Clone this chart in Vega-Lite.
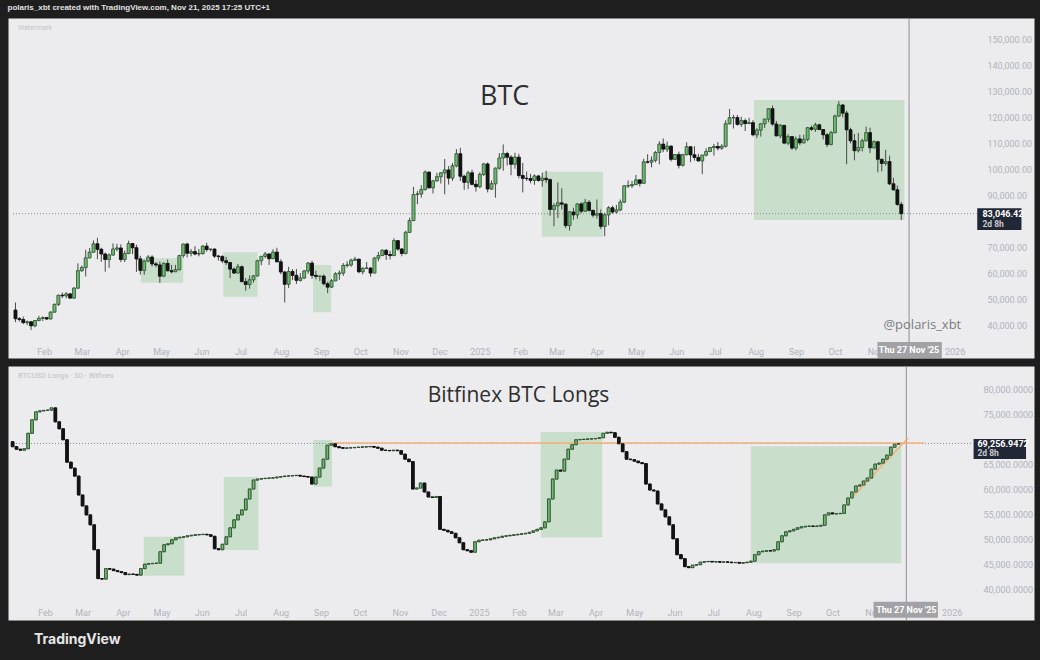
{
"$schema":"https://vega.github.io/schema/vega-lite/v6.json",
"background":"#1e1e1e",
"padding":{"left":7,"right":7,"top":4,"bottom":20},
"title":{"text":"polaris_xbt created with TradingView.com, Nov 21, 2025 17:25 UTC+1","anchor":"start","color":"#e2e2e2","fontSize":8,"fontWeight":"bold","font":"Liberation Sans","offset":5},
"spacing":6,
"resolve":{"scale":{"x":"independent","y":"independent"}},
"config":{"view":{"fill":"#ececee","stroke":"transparent"},"axis":{"grid":false,"ticks":false,"tickSize":0,"domain":false,"labelPadding":0,"labelColor":"#b0b3bb","labelFontSize":9,"labelFont":"Roboto","labelFlush":false,"labelOverlap":false}},
"datasets":{
"btc":[
{"d":"2024-01-10","o":46100,"h":49000,"l":41500,"c":42800},
{"d":"2024-01-13","o":42800,"h":43400,"l":41700,"c":42500},
{"d":"2024-01-16","o":42500,"h":43600,"l":40700,"c":41300},
{"d":"2024-01-19","o":41300,"h":42100,"l":40300,"c":41600},
{"d":"2024-01-22","o":41600,"h":41700,"l":38500,"c":40100},
{"d":"2024-01-25","o":40100,"h":42200,"l":39500,"c":42100},
{"d":"2024-01-28","o":42100,"h":43900,"l":41800,"c":42900},
{"d":"2024-01-31","o":42900,"h":43700,"l":41900,"c":43200},
{"d":"2024-02-03","o":43200,"h":43500,"l":42300,"c":42700},
{"d":"2024-02-06","o":42700,"h":45600,"l":42600,"c":45300},
{"d":"2024-02-09","o":45300,"h":48600,"l":45300,"c":48300},
{"d":"2024-02-12","o":48300,"h":52000,"l":47700,"c":51800},
{"d":"2024-02-15","o":51800,"h":52800,"l":50700,"c":51600},
{"d":"2024-02-18","o":51600,"h":53000,"l":50600,"c":52300},
{"d":"2024-02-21","o":52300,"h":52400,"l":50600,"c":50700},
{"d":"2024-02-24","o":50700,"h":54900,"l":50500,"c":54500},
{"d":"2024-02-27","o":54500,"h":64000,"l":54400,"c":61200},
{"d":"2024-03-01","o":61200,"h":63200,"l":60800,"c":62400},
{"d":"2024-03-04","o":62400,"h":69200,"l":59000,"c":66100},
{"d":"2024-03-07","o":66100,"h":69900,"l":66000,"c":68300},
{"d":"2024-03-10","o":68300,"h":72800,"l":68200,"c":71500},
{"d":"2024-03-13","o":71500,"h":73800,"l":65600,"c":69400},
{"d":"2024-03-16","o":69400,"h":70000,"l":64600,"c":67600},
{"d":"2024-03-19","o":67600,"h":68100,"l":60800,"c":65500},
{"d":"2024-03-22","o":65500,"h":67800,"l":62300,"c":67200},
{"d":"2024-03-25","o":67200,"h":71700,"l":67000,"c":69500},
{"d":"2024-03-28","o":69500,"h":71500,"l":68600,"c":69900},
{"d":"2024-03-31","o":69900,"h":71300,"l":64500,"c":65500},
{"d":"2024-04-03","o":65500,"h":68900,"l":64500,"c":67800},
{"d":"2024-04-06","o":67800,"h":72700,"l":67500,"c":71600},
{"d":"2024-04-09","o":71600,"h":71700,"l":67500,"c":70000},
{"d":"2024-04-12","o":70000,"h":71200,"l":60700,"c":65700},
{"d":"2024-04-15","o":65700,"h":66900,"l":59700,"c":61300},
{"d":"2024-04-18","o":61300,"h":65400,"l":59600,"c":64900},
{"d":"2024-04-21","o":64900,"h":67200,"l":64400,"c":66400},
{"d":"2024-04-24","o":66400,"h":67100,"l":62800,"c":63800},
{"d":"2024-04-27","o":63800,"h":64500,"l":62500,"c":63400},
{"d":"2024-04-30","o":63400,"h":64700,"l":56500,"c":59100},
{"d":"2024-05-03","o":59100,"h":64400,"l":58800,"c":64000},
{"d":"2024-05-06","o":64000,"h":65500,"l":60900,"c":61200},
{"d":"2024-05-09","o":61200,"h":63400,"l":60200,"c":60800},
{"d":"2024-05-12","o":60800,"h":63400,"l":60700,"c":61600},
{"d":"2024-05-15","o":61600,"h":67300,"l":61300,"c":67000},
{"d":"2024-05-18","o":67000,"h":71500,"l":66100,"c":71400},
{"d":"2024-05-21","o":71400,"h":71900,"l":66300,"c":67900},
{"d":"2024-05-24","o":67900,"h":69500,"l":66700,"c":68500},
{"d":"2024-05-27","o":68500,"h":70600,"l":67100,"c":67600},
{"d":"2024-05-30","o":67600,"h":69500,"l":66700,"c":67800},
{"d":"2024-06-02","o":67800,"h":71000,"l":67300,"c":70600},
{"d":"2024-06-05","o":70600,"h":71900,"l":68500,"c":69300},
{"d":"2024-06-08","o":69300,"h":69600,"l":68600,"c":69500},
{"d":"2024-06-11","o":69500,"h":69600,"l":66100,"c":66800},
{"d":"2024-06-14","o":66800,"h":67300,"l":65100,"c":66600},
{"d":"2024-06-17","o":66600,"h":67200,"l":64100,"c":65000},
{"d":"2024-06-20","o":65000,"h":66500,"l":63400,"c":64300},
{"d":"2024-06-23","o":64300,"h":64500,"l":58400,"c":61800},
{"d":"2024-06-26","o":61800,"h":62400,"l":60000,"c":60300},
{"d":"2024-06-29","o":60300,"h":63800,"l":60300,"c":62700},
{"d":"2024-07-02","o":62700,"h":63200,"l":56800,"c":57000},
{"d":"2024-07-05","o":57000,"h":58400,"l":53500,"c":55900},
{"d":"2024-07-08","o":55900,"h":59400,"l":54300,"c":57700},
{"d":"2024-07-11","o":57700,"h":59500,"l":56600,"c":59200},
{"d":"2024-07-14","o":59200,"h":65400,"l":59000,"c":65000},
{"d":"2024-07-17","o":65000,"h":66800,"l":63300,"c":66700},
{"d":"2024-07-20","o":66700,"h":68400,"l":66000,"c":67600},
{"d":"2024-07-23","o":67600,"h":67800,"l":63400,"c":65800},
{"d":"2024-07-26","o":65800,"h":69400,"l":65800,"c":68300},
{"d":"2024-07-29","o":68300,"h":70000,"l":64500,"c":64600},
{"d":"2024-08-01","o":64600,"h":65600,"l":59800,"c":60700},
{"d":"2024-08-04","o":60700,"h":61000,"l":49000,"c":56000},
{"d":"2024-08-07","o":56000,"h":62700,"l":54600,"c":60900},
{"d":"2024-08-10","o":60900,"h":61800,"l":57600,"c":59400},
{"d":"2024-08-13","o":59400,"h":61800,"l":56100,"c":57500},
{"d":"2024-08-16","o":57500,"h":60300,"l":57000,"c":58400},
{"d":"2024-08-19","o":58400,"h":61400,"l":58000,"c":61100},
{"d":"2024-08-22","o":61100,"h":64500,"l":60000,"c":64100},
{"d":"2024-08-25","o":64100,"h":65000,"l":58100,"c":59400},
{"d":"2024-08-28","o":59400,"h":61200,"l":57900,"c":59000},
{"d":"2024-08-31","o":59000,"h":59400,"l":57200,"c":59100},
{"d":"2024-09-03","o":59100,"h":59800,"l":55600,"c":56200},
{"d":"2024-09-06","o":56200,"h":57000,"l":52600,"c":54900},
{"d":"2024-09-09","o":54900,"h":58000,"l":54600,"c":57300},
{"d":"2024-09-12","o":57300,"h":60600,"l":57300,"c":60000},
{"d":"2024-09-15","o":60000,"h":61300,"l":57700,"c":60300},
{"d":"2024-09-18","o":60300,"h":64100,"l":59200,"c":63200},
{"d":"2024-09-21","o":63200,"h":64800,"l":62400,"c":63400},
{"d":"2024-09-24","o":63400,"h":65800,"l":62700,"c":65200},
{"d":"2024-09-27","o":65200,"h":66500,"l":65000,"c":65600},
{"d":"2024-09-30","o":65600,"h":65700,"l":60200,"c":60800},
{"d":"2024-10-03","o":60800,"h":62500,"l":59800,"c":62100},
{"d":"2024-10-06","o":62100,"h":64500,"l":61900,"c":62200},
{"d":"2024-10-09","o":62200,"h":62600,"l":58900,"c":60300},
{"d":"2024-10-12","o":60300,"h":66500,"l":60300,"c":66000},
{"d":"2024-10-15","o":66000,"h":68400,"l":64800,"c":67000},
{"d":"2024-10-18","o":67000,"h":69400,"l":67000,"c":69000},
{"d":"2024-10-21","o":69000,"h":69500,"l":65300,"c":67400},
{"d":"2024-10-24","o":67400,"h":68800,"l":65500,"c":67000},
{"d":"2024-10-27","o":67000,"h":73600,"l":66800,"c":72700},
{"d":"2024-10-30","o":72700,"h":72900,"l":68800,"c":69500},
{"d":"2024-11-02","o":69500,"h":69900,"l":66700,"c":67800},
{"d":"2024-11-05","o":67800,"h":76500,"l":67400,"c":75900},
{"d":"2024-11-08","o":75900,"h":81500,"l":75700,"c":80400},
{"d":"2024-11-11","o":80400,"h":93300,"l":80200,"c":90400},
{"d":"2024-11-14","o":90400,"h":91800,"l":86700,"c":90600},
{"d":"2024-11-17","o":90600,"h":94000,"l":89200,"c":92300},
{"d":"2024-11-20","o":92300,"h":99600,"l":91900,"c":99000},
{"d":"2024-11-23","o":99000,"h":99000,"l":92600,"c":93000},
{"d":"2024-11-26","o":93000,"h":96000,"l":90800,"c":95600},
{"d":"2024-11-29","o":95600,"h":98700,"l":95400,"c":97200},
{"d":"2024-12-02","o":97200,"h":99000,"l":94600,"c":98700},
{"d":"2024-12-05","o":98700,"h":104000,"l":90500,"c":99800},
{"d":"2024-12-08","o":99800,"h":101300,"l":94200,"c":96700},
{"d":"2024-12-11","o":96700,"h":102500,"l":95600,"c":101400},
{"d":"2024-12-14","o":101400,"h":107800,"l":100800,"c":106000},
{"d":"2024-12-17","o":106000,"h":108300,"l":95600,"c":97400},
{"d":"2024-12-20","o":97400,"h":98000,"l":92200,"c":95100},
{"d":"2024-12-23","o":95100,"h":99500,"l":92500,"c":98700},
{"d":"2024-12-26","o":98700,"h":99900,"l":93900,"c":94300},
{"d":"2024-12-29","o":94300,"h":96000,"l":91500,"c":93400},
{"d":"2025-01-01","o":93400,"h":98900,"l":92800,"c":98100},
{"d":"2025-01-04","o":98100,"h":102500,"l":97500,"c":102100},
{"d":"2025-01-07","o":102100,"h":102700,"l":91200,"c":92500},
{"d":"2025-01-10","o":92500,"h":95800,"l":92200,"c":94500},
{"d":"2025-01-13","o":94500,"h":100700,"l":89200,"c":100500},
{"d":"2025-01-16","o":100500,"h":106300,"l":99900,"c":104400},
{"d":"2025-01-19","o":104400,"h":109600,"l":99500,"c":106100},
{"d":"2025-01-22","o":106100,"h":106800,"l":101500,"c":104700},
{"d":"2025-01-25","o":104700,"h":105500,"l":97800,"c":102000},
{"d":"2025-01-28","o":102000,"h":106400,"l":100300,"c":104700},
{"d":"2025-01-31","o":104700,"h":106000,"l":96600,"c":97700},
{"d":"2025-02-03","o":97700,"h":102500,"l":91200,"c":96600},
{"d":"2025-02-06","o":96600,"h":99200,"l":95600,"c":96500},
{"d":"2025-02-09","o":96500,"h":98300,"l":94700,"c":95800},
{"d":"2025-02-12","o":95800,"h":98100,"l":94100,"c":97500},
{"d":"2025-02-15","o":97500,"h":97900,"l":95300,"c":95800},
{"d":"2025-02-18","o":95800,"h":98700,"l":93400,"c":96600},
{"d":"2025-02-21","o":96600,"h":99500,"l":94800,"c":96100},
{"d":"2025-02-24","o":96100,"h":96500,"l":82300,"c":84700},
{"d":"2025-02-27","o":84700,"h":87000,"l":78200,"c":86100},
{"d":"2025-03-02","o":86100,"h":95000,"l":81400,"c":87200},
{"d":"2025-03-05","o":87200,"h":92800,"l":84700,"c":86700},
{"d":"2025-03-08","o":86700,"h":86900,"l":77500,"c":78500},
{"d":"2025-03-11","o":78500,"h":84100,"l":76600,"c":83700},
{"d":"2025-03-14","o":83700,"h":85300,"l":80700,"c":82600},
{"d":"2025-03-17","o":82600,"h":86900,"l":81100,"c":86800},
{"d":"2025-03-20","o":86800,"h":87400,"l":83200,"c":84000},
{"d":"2025-03-23","o":84000,"h":88700,"l":83800,"c":87400},
{"d":"2025-03-26","o":87400,"h":88300,"l":83900,"c":84300},
{"d":"2025-03-29","o":84300,"h":84600,"l":81600,"c":82500},
{"d":"2025-04-01","o":82500,"h":88500,"l":81200,"c":83100},
{"d":"2025-04-04","o":83100,"h":84700,"l":77200,"c":78200},
{"d":"2025-04-07","o":78200,"h":83500,"l":74400,"c":82600},
{"d":"2025-04-10","o":82600,"h":85900,"l":78600,"c":85300},
{"d":"2025-04-13","o":85300,"h":86100,"l":83000,"c":83700},
{"d":"2025-04-16","o":83700,"h":86400,"l":83100,"c":84500},
{"d":"2025-04-19","o":84500,"h":88500,"l":84000,"c":87500},
{"d":"2025-04-22","o":87500,"h":94000,"l":87100,"c":93700},
{"d":"2025-04-25","o":93700,"h":95800,"l":92900,"c":93800},
{"d":"2025-04-28","o":93800,"h":95600,"l":92900,"c":94200},
{"d":"2025-05-01","o":94200,"h":97900,"l":94100,"c":96000},
{"d":"2025-05-04","o":96000,"h":96300,"l":93400,"c":94700},
{"d":"2025-05-07","o":94700,"h":104100,"l":94700,"c":102900},
{"d":"2025-05-10","o":102900,"h":105800,"l":102300,"c":102800},
{"d":"2025-05-13","o":102800,"h":105000,"l":100800,"c":103500},
{"d":"2025-05-16","o":103500,"h":107100,"l":102700,"c":106500},
{"d":"2025-05-19","o":106500,"h":110800,"l":102000,"c":109700},
{"d":"2025-05-22","o":109700,"h":111900,"l":106600,"c":107800},
{"d":"2025-05-25","o":107800,"h":110700,"l":106700,"c":108900},
{"d":"2025-05-28","o":108900,"h":109300,"l":103100,"c":103900},
{"d":"2025-05-31","o":103900,"h":105900,"l":103600,"c":105700},
{"d":"2025-06-03","o":105700,"h":106800,"l":100400,"c":101600},
{"d":"2025-06-06","o":101600,"h":106000,"l":101100,"c":105700},
{"d":"2025-06-09","o":105700,"h":110400,"l":105300,"c":108700},
{"d":"2025-06-12","o":108700,"h":108800,"l":102800,"c":105600},
{"d":"2025-06-15","o":105600,"h":108900,"l":103400,"c":104600},
{"d":"2025-06-18","o":104600,"h":106000,"l":103000,"c":103300},
{"d":"2025-06-21","o":103300,"h":105600,"l":98200,"c":105500},
{"d":"2025-06-24","o":105500,"h":108100,"l":105000,"c":106900},
{"d":"2025-06-27","o":106900,"h":108500,"l":106600,"c":108400},
{"d":"2025-06-30","o":108400,"h":109800,"l":105300,"c":108800},
{"d":"2025-07-03","o":108800,"h":110500,"l":107300,"c":108200},
{"d":"2025-07-06","o":108200,"h":109700,"l":107500,"c":108900},
{"d":"2025-07-09","o":108900,"h":118900,"l":108400,"c":117500},
{"d":"2025-07-12","o":117500,"h":123200,"l":117300,"c":119800},
{"d":"2025-07-15","o":119800,"h":120900,"l":115700,"c":119900},
{"d":"2025-07-18","o":119900,"h":120900,"l":116800,"c":117300},
{"d":"2025-07-21","o":117300,"h":120200,"l":116300,"c":118700},
{"d":"2025-07-24","o":118700,"h":119500,"l":114700,"c":117600},
{"d":"2025-07-27","o":117600,"h":119800,"l":117400,"c":117900},
{"d":"2025-07-30","o":117900,"h":118900,"l":112700,"c":113300},
{"d":"2025-08-02","o":113300,"h":115800,"l":112000,"c":115100},
{"d":"2025-08-05","o":115100,"h":117700,"l":112600,"c":117500},
{"d":"2025-08-08","o":117500,"h":119400,"l":115900,"c":119300},
{"d":"2025-08-11","o":119300,"h":123500,"l":118100,"c":123300},
{"d":"2025-08-14","o":123300,"h":124500,"l":116800,"c":117400},
{"d":"2025-08-17","o":117400,"h":118600,"l":112700,"c":112900},
{"d":"2025-08-20","o":112900,"h":117400,"l":112000,"c":116900},
{"d":"2025-08-23","o":116900,"h":117000,"l":109700,"c":110100},
{"d":"2025-08-26","o":110100,"h":113500,"l":109300,"c":112600},
{"d":"2025-08-29","o":112600,"h":112700,"l":107500,"c":108200},
{"d":"2025-09-01","o":108200,"h":112600,"l":107300,"c":111700},
{"d":"2025-09-04","o":111700,"h":113300,"l":109300,"c":110200},
{"d":"2025-09-07","o":110200,"h":113300,"l":110000,"c":111500},
{"d":"2025-09-10","o":111500,"h":116300,"l":110800,"c":116000},
{"d":"2025-09-13","o":116000,"h":116800,"l":114800,"c":115400},
{"d":"2025-09-16","o":115400,"h":117900,"l":114400,"c":117100},
{"d":"2025-09-19","o":117100,"h":117500,"l":115100,"c":115300},
{"d":"2025-09-22","o":115300,"h":115400,"l":111500,"c":113300},
{"d":"2025-09-25","o":113300,"h":113900,"l":108600,"c":109600},
{"d":"2025-09-28","o":109600,"h":114800,"l":109200,"c":114100},
{"d":"2025-10-01","o":114100,"h":121000,"l":113900,"c":120500},
{"d":"2025-10-04","o":120500,"h":126200,"l":120100,"c":124700},
{"d":"2025-10-07","o":124700,"h":125100,"l":119900,"c":121600},
{"d":"2025-10-10","o":121600,"h":122500,"l":102000,"c":115200},
{"d":"2025-10-13","o":115200,"h":116000,"l":110000,"c":111000},
{"d":"2025-10-16","o":111000,"h":113600,"l":103500,"c":107200},
{"d":"2025-10-19","o":107200,"h":114000,"l":106500,"c":108400},
{"d":"2025-10-22","o":108400,"h":111800,"l":106900,"c":111000},
{"d":"2025-10-25","o":111000,"h":116400,"l":110800,"c":114100},
{"d":"2025-10-28","o":114100,"h":116000,"l":106300,"c":108300},
{"d":"2025-10-31","o":108300,"h":111200,"l":108000,"c":110600},
{"d":"2025-11-03","o":110600,"h":110800,"l":98900,"c":103900},
{"d":"2025-11-06","o":103900,"h":104000,"l":99300,"c":102300},
{"d":"2025-11-09","o":102300,"h":107500,"l":101500,"c":103000},
{"d":"2025-11-12","o":103000,"h":105300,"l":94000,"c":94500},
{"d":"2025-11-15","o":94500,"h":96800,"l":91900,"c":92200},
{"d":"2025-11-18","o":92200,"h":93800,"l":86100,"c":86600},
{"d":"2025-11-21","o":86600,"h":87500,"l":80600,"c":83046.42}
],
"longs":[
{"d":"2024-01-07","o":69600,"c":68600},{"d":"2024-01-10","o":68600,"c":68100},{"d":"2024-01-13","o":68100,"c":67900},{"d":"2024-01-16","o":67900,"c":68200},
{"d":"2024-01-19","o":68200,"c":71300},{"d":"2024-01-22","o":71300,"c":74000},{"d":"2024-01-25","o":74000,"c":75600},{"d":"2024-01-28","o":75600,"c":75800},
{"d":"2024-01-31","o":75800,"c":75900},{"d":"2024-02-03","o":75900,"c":75950},{"d":"2024-02-06","o":75950,"c":76400},{"d":"2024-02-09","o":76400,"c":73600},
{"d":"2024-02-12","o":73600,"c":72200},{"d":"2024-02-15","o":72200,"c":70000},{"d":"2024-02-18","o":70000,"c":65500},{"d":"2024-02-21","o":65500,"c":64300},
{"d":"2024-02-24","o":64300,"c":62700},{"d":"2024-02-27","o":62700,"c":58900},{"d":"2024-03-01","o":58900,"c":56700},{"d":"2024-03-04","o":56700,"c":54900},
{"d":"2024-03-07","o":54900,"c":52900},{"d":"2024-03-10","o":52900,"c":47900},{"d":"2024-03-13","o":47900,"c":42100},{"d":"2024-03-16","o":42100,"c":42000},
{"d":"2024-03-19","o":42000,"c":44100},{"d":"2024-03-22","o":44100,"c":44000},{"d":"2024-03-25","o":44000,"c":43700},{"d":"2024-03-28","o":43700,"c":43500},
{"d":"2024-03-31","o":43500,"c":43300},{"d":"2024-04-03","o":43300,"c":42900},{"d":"2024-04-06","o":42900,"c":43000},{"d":"2024-04-09","o":43000,"c":42950},
{"d":"2024-04-12","o":42950,"c":42800},{"d":"2024-04-15","o":42800,"c":44100},{"d":"2024-04-18","o":44100,"c":45000},{"d":"2024-04-21","o":45000,"c":45100},
{"d":"2024-04-24","o":45100,"c":45150},{"d":"2024-04-27","o":45150,"c":45200},{"d":"2024-04-30","o":45200,"c":47500},{"d":"2024-05-03","o":47500,"c":48900},
{"d":"2024-05-06","o":48900,"c":49100},{"d":"2024-05-09","o":49100,"c":49900},{"d":"2024-05-12","o":49900,"c":50300},{"d":"2024-05-15","o":50300,"c":50400},
{"d":"2024-05-18","o":50400,"c":50500},{"d":"2024-05-21","o":50500,"c":50700},{"d":"2024-05-24","o":50700,"c":50800},{"d":"2024-05-27","o":50800,"c":50900},
{"d":"2024-05-30","o":50900,"c":50950},{"d":"2024-06-02","o":50950,"c":51000},{"d":"2024-06-05","o":51000,"c":50900},{"d":"2024-06-08","o":50900,"c":50600},
{"d":"2024-06-11","o":50600,"c":48100},{"d":"2024-06-14","o":48100,"c":47900},{"d":"2024-06-17","o":47900,"c":49000},{"d":"2024-06-20","o":49000,"c":50500},
{"d":"2024-06-23","o":50500,"c":52300},{"d":"2024-06-26","o":52300,"c":53900},{"d":"2024-06-29","o":53900,"c":54900},{"d":"2024-07-02","o":54900,"c":55900},
{"d":"2024-07-05","o":55900,"c":58100},{"d":"2024-07-08","o":58100,"c":60100},{"d":"2024-07-11","o":60100,"c":61900},{"d":"2024-07-14","o":61900,"c":62100},
{"d":"2024-07-17","o":62100,"c":62200},{"d":"2024-07-20","o":62200,"c":62250},{"d":"2024-07-23","o":62250,"c":62300},{"d":"2024-07-26","o":62300,"c":62350},
{"d":"2024-07-29","o":62350,"c":62500},{"d":"2024-08-01","o":62500,"c":62600},{"d":"2024-08-04","o":62600,"c":62700},{"d":"2024-08-07","o":62700,"c":62750},
{"d":"2024-08-10","o":62750,"c":62800},{"d":"2024-08-13","o":62800,"c":62850},{"d":"2024-08-16","o":62850,"c":62700},{"d":"2024-08-19","o":62700,"c":62600},
{"d":"2024-08-22","o":62600,"c":62500},{"d":"2024-08-25","o":62500,"c":61100},{"d":"2024-08-28","o":61100,"c":62500},{"d":"2024-08-31","o":62500,"c":64300},
{"d":"2024-09-03","o":64300,"c":66100},{"d":"2024-09-06","o":66100,"c":68900},{"d":"2024-09-09","o":68900,"c":69200},{"d":"2024-09-12","o":69200,"c":68600},
{"d":"2024-09-15","o":68600,"c":68400},{"d":"2024-09-18","o":68400,"c":68300},{"d":"2024-09-21","o":68300,"c":68350},{"d":"2024-09-24","o":68350,"c":68400},
{"d":"2024-09-27","o":68400,"c":68450},{"d":"2024-09-30","o":68450,"c":68500},{"d":"2024-10-03","o":68500,"c":68550},{"d":"2024-10-06","o":68550,"c":68600},
{"d":"2024-10-09","o":68600,"c":68650},{"d":"2024-10-12","o":68650,"c":68500},{"d":"2024-10-15","o":68500,"c":68300},{"d":"2024-10-18","o":68300,"c":67900},
{"d":"2024-10-21","o":67900,"c":67850},{"d":"2024-10-24","o":67850,"c":67800},{"d":"2024-10-27","o":67800,"c":67900},{"d":"2024-10-30","o":67900,"c":67800},
{"d":"2024-11-02","o":67800,"c":67100},{"d":"2024-11-05","o":67100,"c":66100},{"d":"2024-11-08","o":66100,"c":65600},{"d":"2024-11-11","o":65600,"c":60100},
{"d":"2024-11-14","o":60100,"c":60300},{"d":"2024-11-17","o":60300,"c":61300},{"d":"2024-11-20","o":61300,"c":59500},{"d":"2024-11-23","o":59500,"c":58500},
{"d":"2024-11-26","o":58500,"c":58400},{"d":"2024-11-29","o":58400,"c":58600},{"d":"2024-12-02","o":58600,"c":52000},{"d":"2024-12-05","o":52000,"c":51800},
{"d":"2024-12-08","o":51800,"c":51500},{"d":"2024-12-11","o":51500,"c":51200},{"d":"2024-12-14","o":51200,"c":50300},{"d":"2024-12-17","o":50300,"c":49300},
{"d":"2024-12-20","o":49300,"c":47900},{"d":"2024-12-23","o":47900,"c":47700},{"d":"2024-12-26","o":47700,"c":47400},{"d":"2024-12-29","o":47400,"c":49500},
{"d":"2025-01-01","o":49500,"c":49800},{"d":"2025-01-04","o":49800,"c":49850},{"d":"2025-01-07","o":49850,"c":49900},{"d":"2025-01-10","o":49900,"c":50100},
{"d":"2025-01-13","o":50100,"c":50300},{"d":"2025-01-16","o":50300,"c":50400},{"d":"2025-01-19","o":50400,"c":50600},{"d":"2025-01-22","o":50600,"c":50700},
{"d":"2025-01-25","o":50700,"c":50800},{"d":"2025-01-28","o":50800,"c":50900},{"d":"2025-01-31","o":50900,"c":51000},{"d":"2025-02-03","o":51000,"c":51100},
{"d":"2025-02-06","o":51100,"c":51200},{"d":"2025-02-09","o":51200,"c":51400},{"d":"2025-02-12","o":51400,"c":51700},{"d":"2025-02-15","o":51700,"c":52000},
{"d":"2025-02-18","o":52000,"c":52300},{"d":"2025-02-21","o":52300,"c":53500},{"d":"2025-02-24","o":53500,"c":58100},{"d":"2025-02-27","o":58100,"c":62100},
{"d":"2025-03-02","o":62100,"c":63900},{"d":"2025-03-05","o":63900,"c":63700},{"d":"2025-03-08","o":63700,"c":66100},{"d":"2025-03-11","o":66100,"c":68100},
{"d":"2025-03-14","o":68100,"c":69000},{"d":"2025-03-17","o":69000,"c":70000},{"d":"2025-03-20","o":70000,"c":70050},{"d":"2025-03-23","o":70050,"c":70100},
{"d":"2025-03-26","o":70100,"c":70150},{"d":"2025-03-29","o":70150,"c":70200},{"d":"2025-04-01","o":70200,"c":70250},{"d":"2025-04-04","o":70250,"c":70400},
{"d":"2025-04-07","o":70400,"c":71300},{"d":"2025-04-10","o":71300,"c":71500},{"d":"2025-04-13","o":71500,"c":71400},{"d":"2025-04-16","o":71400,"c":70500},
{"d":"2025-04-19","o":70500,"c":69200},{"d":"2025-04-22","o":69200,"c":67600},{"d":"2025-04-25","o":67600,"c":66100},{"d":"2025-04-28","o":66100,"c":66000},
{"d":"2025-05-01","o":66000,"c":65700},{"d":"2025-05-04","o":65700,"c":65400},{"d":"2025-05-07","o":65400,"c":65200},{"d":"2025-05-10","o":65200,"c":61100},
{"d":"2025-05-13","o":61100,"c":59900},{"d":"2025-05-16","o":59900,"c":59700},{"d":"2025-05-19","o":59700,"c":57100},{"d":"2025-05-22","o":57100,"c":55900},
{"d":"2025-05-25","o":55900,"c":54500},{"d":"2025-05-28","o":54500,"c":52900},{"d":"2025-05-31","o":52900,"c":50100},{"d":"2025-06-03","o":50100,"c":46900},
{"d":"2025-06-06","o":46900,"c":46100},{"d":"2025-06-09","o":46100,"c":44500},{"d":"2025-06-12","o":44500,"c":44300},{"d":"2025-06-15","o":44300,"c":44800},
{"d":"2025-06-18","o":44800,"c":44900},{"d":"2025-06-21","o":44900,"c":45400},{"d":"2025-06-24","o":45400,"c":45500},{"d":"2025-06-27","o":45500,"c":45550},
{"d":"2025-06-30","o":45550,"c":45450},{"d":"2025-07-03","o":45450,"c":45500},{"d":"2025-07-06","o":45500,"c":45400},{"d":"2025-07-09","o":45400,"c":45450},
{"d":"2025-07-12","o":45450,"c":45400},{"d":"2025-07-15","o":45400,"c":45300},{"d":"2025-07-18","o":45300,"c":45350},{"d":"2025-07-21","o":45350,"c":45200},
{"d":"2025-07-24","o":45200,"c":45300},{"d":"2025-07-27","o":45300,"c":45400},{"d":"2025-07-30","o":45400,"c":45600},{"d":"2025-08-02","o":45600,"c":46900},
{"d":"2025-08-05","o":46900,"c":47500},{"d":"2025-08-08","o":47500,"c":47600},{"d":"2025-08-11","o":47600,"c":47700},{"d":"2025-08-14","o":47700,"c":47650},
{"d":"2025-08-17","o":47650,"c":47900},{"d":"2025-08-20","o":47900,"c":49500},{"d":"2025-08-23","o":49500,"c":50700},{"d":"2025-08-26","o":50700,"c":51500},
{"d":"2025-08-29","o":51500,"c":51700},{"d":"2025-09-01","o":51700,"c":52000},{"d":"2025-09-04","o":52000,"c":52300},{"d":"2025-09-07","o":52300,"c":52500},
{"d":"2025-09-10","o":52500,"c":52600},{"d":"2025-09-13","o":52600,"c":52650},{"d":"2025-09-16","o":52650,"c":52600},{"d":"2025-09-19","o":52600,"c":52650},
{"d":"2025-09-22","o":52650,"c":52800},{"d":"2025-09-25","o":52800,"c":54900},{"d":"2025-09-28","o":54900,"c":55300},{"d":"2025-10-01","o":55300,"c":55100},
{"d":"2025-10-04","o":55100,"c":55150},{"d":"2025-10-07","o":55150,"c":55200},{"d":"2025-10-10","o":55200,"c":56900},{"d":"2025-10-13","o":56900,"c":58300},
{"d":"2025-10-16","o":58300,"c":59500},{"d":"2025-10-19","o":59500,"c":60700},{"d":"2025-10-22","o":60700,"c":60900},{"d":"2025-10-25","o":60900,"c":61700},
{"d":"2025-10-28","o":61700,"c":62300},{"d":"2025-10-31","o":62300,"c":64100},{"d":"2025-11-03","o":64100,"c":65100},{"d":"2025-11-06","o":65100,"c":65300},
{"d":"2025-11-09","o":65300,"c":66100},{"d":"2025-11-12","o":66100,"c":66900},{"d":"2025-11-15","o":66900,"c":68500},{"d":"2025-11-18","o":68500,"c":69100},
{"d":"2025-11-21","o":69100,"c":69256.9472}
]
},
"vconcat":[
{
"width":1026,"height":340,
"layer":[
{"data":{"name":"btc"},
"mark":{"type":"bar","width":2.8,"strokeWidth":0.6},
"encoding":{
"x":{"field":"d","type":"temporal","title":null,"scale":{"type":"utc","domain":[{"year":2024,"month":1,"date":8,"hours":2,"minutes":24,"utc":true},{"year":2026,"month":2,"date":27,"hours":5,"utc":true}]},"axis":{"orient":"bottom","offset":-11,"tickCount":40,"labelOverlap":false,"labelExpr":"utcFormat(datum.value, '%m') == '01' ? utcFormat(datum.value, '%Y') : utcFormat(datum.value, '%b')","values":[{"year":2024,"month":2,"date":1,"utc":true},{"year":2024,"month":3,"date":1,"utc":true},{"year":2024,"month":4,"date":1,"utc":true},{"year":2024,"month":5,"date":1,"utc":true},{"year":2024,"month":6,"date":1,"utc":true},{"year":2024,"month":7,"date":1,"utc":true},{"year":2024,"month":8,"date":1,"utc":true},{"year":2024,"month":9,"date":1,"utc":true},{"year":2024,"month":10,"date":1,"utc":true},{"year":2024,"month":11,"date":1,"utc":true},{"year":2024,"month":12,"date":1,"utc":true},{"year":2025,"month":1,"date":1,"utc":true},{"year":2025,"month":2,"date":1,"utc":true},{"year":2025,"month":3,"date":1,"utc":true},{"year":2025,"month":4,"date":1,"utc":true},{"year":2025,"month":5,"date":1,"utc":true},{"year":2025,"month":6,"date":1,"utc":true},{"year":2025,"month":7,"date":1,"utc":true},{"year":2025,"month":8,"date":1,"utc":true},{"year":2025,"month":9,"date":1,"utc":true},{"year":2025,"month":10,"date":1,"utc":true},{"year":2025,"month":11,"date":1,"utc":true},{"year":2026,"month":1,"date":1,"utc":true}]}},
"y":{"field":"o","type":"quantitative","title":null,"scale":{"domain":[27735,158050],"zero":false,"nice":false},"axis":{"orient":"right","offset":-47,"tickCount":30,"labelOverlap":false,"labelAlign":"left","format":",.2f","values":[40000,50000,60000,70000,90000,100000,110000,120000,130000,140000,150000]}},
"y2":{"field":"c"},
"fill":{"condition":{"test":"datum.c >= datum.o","value":"#6dbb71"},"value":"#131313"},
"stroke":{"condition":{"test":"datum.c >= datum.o","value":"#2d4a2f"},"value":"#131313"}}},
{"data":{"values":[
{"a":"2024-04-15T07:00:00Z","b":"2024-05-18T00:00:00Z","lo":56600,"hi":65950},
{"a":"2024-06-17T17:00:00Z","b":"2024-07-14T05:00:00Z","lo":51230,"hi":68250},
{"a":"2024-08-25T19:00:00Z","b":"2024-09-08T17:00:00Z","lo":45250,"hi":63380},
{"a":"2025-02-17T16:00:00Z","b":"2025-04-05T14:00:00Z","lo":74230,"hi":99140},
{"a":"2025-07-30T19:00:00Z","b":"2025-11-23T12:00:00Z","lo":80600,"hi":126600}]},
"mark":{"type":"rect","color":"#4caf50","opacity":0.22},
"encoding":{"x":{"field":"a","type":"temporal","title":null},"x2":{"field":"b"},"y":{"field":"lo","type":"quantitative","title":null},"y2":{"field":"hi"}}},
{"data":{"values":[{"a":"2024-01-08T02:24:00Z","b":"2026-01-17T22:00:00Z","v":83046.42}]},
"mark":{"type":"rule","color":"#8a8a8e","strokeWidth":1,"strokeDash":[1,2]},
"encoding":{"x":{"field":"a","type":"temporal","title":null},"x2":{"field":"b"},"y":{"field":"v","type":"quantitative","title":null}}},
{"data":{"values":[{"a":"2025-11-27T00:00:00Z"}]},
"mark":{"type":"rule","color":"#8f8f94","strokeWidth":1},
"encoding":{"x":{"field":"a","type":"temporal","title":null}}},
{"data":{"name":"btc"},
"mark":{"type":"rule","color":"#4a4a4a","strokeWidth":1},
"encoding":{"x":{"field":"d","type":"temporal","title":null},"y":{"field":"l","type":"quantitative","title":null},"y2":{"field":"h"}}},
{"data":{"name":"btc"},
"mark":{"type":"bar","width":2.8,"strokeWidth":0.6},
"encoding":{
"x":{"field":"d","type":"temporal","title":null},
"y":{"field":"o","type":"quantitative","title":null},
"y2":{"field":"c"},
"fill":{"condition":{"test":"datum.c >= datum.o","value":"#6dbb71"},"value":"#131313"},
"stroke":{"condition":{"test":"datum.c >= datum.o","value":"#2d4a2f"},"value":"#131313"}}},
{"data":{"values":[{"a":"2024-01-11T22:00:00Z","v":154105,"t":"Watermark"}]},
"mark":{"type":"text","align":"left","baseline":"middle","fontSize":7,"font":"Roboto","color":"#c4c4c9"},
"encoding":{"x":{"field":"a","type":"temporal","title":null},"y":{"field":"v","type":"quantitative","title":null},"text":{"field":"t"}}},
{"data":{"values":[{"a":"2025-01-20T02:00:00Z","v":127770,"t":"BTC"}]},
"mark":{"type":"text","align":"center","baseline":"middle","fontSize":27,"font":"Open Sans","color":"#2e2e2e"},
"encoding":{"x":{"field":"a","type":"temporal","title":null},"y":{"field":"v","type":"quantitative","title":null},"text":{"field":"t"}}},
{"data":{"values":[{"a":"2025-11-07T07:00:00Z","v":40383,"t":"@polaris_xbt"}]},
"mark":{"type":"text","align":"left","baseline":"middle","fontSize":13,"font":"Open Sans","color":"#7c7c80"},
"encoding":{"x":{"field":"a","type":"temporal","title":null},"y":{"field":"v","type":"quantitative","title":null},"text":{"field":"t"}}},
{"data":{"values":[{"a":"2026-01-18T10:00:00Z","b":"2026-02-21T10:00:00Z","lo":76796,"hi":85110}]},
"mark":{"type":"rect","color":"#222736"},
"encoding":{"x":{"field":"a","type":"temporal","title":null},"x2":{"field":"b"},"y":{"field":"lo","type":"quantitative","title":null},"y2":{"field":"hi"}}},
{"data":{"values":[{"a":"2026-01-22T10:00:00Z","v":82813,"t":"83,046.42","s":9,"k":"#ffffff"},{"a":"2026-01-22T10:00:00Z","v":78980,"t":"2d 8h","s":8.5,"k":"#c8c8cc"}]},
"mark":{"type":"text","align":"left","baseline":"middle","font":"Roboto","fontWeight":"bold"},
"encoding":{"x":{"field":"a","type":"temporal","title":null},"y":{"field":"v","type":"quantitative","title":null},"text":{"field":"t"},"size":{"field":"s","type":"quantitative","scale":null,"legend":null},"color":{"field":"k","type":"nominal","scale":null,"legend":null}}},
{"data":{"values":[{"a":"2025-11-02T17:00:00Z","b":"2025-12-22T05:00:00Z","lo":27735,"hi":33870}]},
"mark":{"type":"rect","color":"#a2a2a6"},
"encoding":{"x":{"field":"a","type":"temporal","title":null},"x2":{"field":"b"},"y":{"field":"lo","type":"quantitative","title":null},"y2":{"field":"hi"}}},
{"data":{"values":[{"a":"2025-11-27T00:00:00Z","v":30800,"t":"Thu 27 Nov '25"}]},
"mark":{"type":"text","align":"center","baseline":"middle","fontSize":9,"font":"Roboto","fontWeight":"bold","color":"#ffffff"},
"encoding":{"x":{"field":"a","type":"temporal","title":null},"y":{"field":"v","type":"quantitative","title":null},"text":{"field":"t"}}}
]
},
{
"width":1026,"height":254,
"title":{"text":"TradingView","orient":"bottom","anchor":"start","dx":26,"offset":12,"fontSize":14,"fontWeight":"bold","font":"Inter","color":"#e6e6e6"},
"layer":[
{"data":{"name":"longs"},
"mark":{"type":"bar","width":2.6,"strokeWidth":0.8},
"encoding":{
"x":{"field":"d","type":"temporal","title":null,"scale":{"type":"utc","domain":[{"year":2024,"month":1,"date":7,"hours":7,"utc":true},{"year":2026,"month":3,"date":1,"hours":17,"utc":true}]},"axis":{"orient":"bottom","offset":-12,"tickCount":40,"labelOverlap":false,"labelExpr":"utcFormat(datum.value, '%m') == '01' ? utcFormat(datum.value, '%Y') : utcFormat(datum.value, '%b')","values":[{"year":2024,"month":2,"date":1,"utc":true},{"year":2024,"month":3,"date":1,"utc":true},{"year":2024,"month":4,"date":1,"utc":true},{"year":2024,"month":5,"date":1,"utc":true},{"year":2024,"month":6,"date":1,"utc":true},{"year":2024,"month":7,"date":1,"utc":true},{"year":2024,"month":8,"date":1,"utc":true},{"year":2024,"month":9,"date":1,"utc":true},{"year":2024,"month":10,"date":1,"utc":true},{"year":2024,"month":11,"date":1,"utc":true},{"year":2024,"month":12,"date":1,"utc":true},{"year":2025,"month":1,"date":1,"utc":true},{"year":2025,"month":2,"date":1,"utc":true},{"year":2025,"month":3,"date":1,"utc":true},{"year":2025,"month":4,"date":1,"utc":true},{"year":2025,"month":5,"date":1,"utc":true},{"year":2025,"month":6,"date":1,"utc":true},{"year":2025,"month":7,"date":1,"utc":true},{"year":2025,"month":8,"date":1,"utc":true},{"year":2025,"month":9,"date":1,"utc":true},{"year":2025,"month":10,"date":1,"utc":true},{"year":2025,"month":11,"date":1,"utc":true},{"year":2026,"month":1,"date":1,"utc":true}]}},
"y":{"field":"o","type":"quantitative","title":null,"scale":{"domain":[33780,84820],"zero":false,"nice":false},"axis":{"orient":"right","offset":-51,"tickCount":30,"labelOverlap":false,"labelAlign":"left","format":",.4f","values":[40000,45000,50000,55000,60000,65000,75000,80000]}},
"y2":{"field":"c"},
"fill":{"condition":{"test":"datum.c >= datum.o","value":"#6dbb71"},"value":"#131313"},
"stroke":{"condition":{"test":"datum.c >= datum.o","value":"#2d4a2f"},"value":"#131313"}}},
{"data":{"values":[
{"a":"2024-04-17T05:00:00Z","b":"2024-05-18T14:00:00Z","lo":42650,"hi":50500},
{"a":"2024-06-18T02:00:00Z","b":"2024-07-14T17:00:00Z","lo":47870,"hi":62530},
{"a":"2024-08-26T05:00:00Z","b":"2024-09-09T12:00:00Z","lo":60580,"hi":69960},
{"a":"2025-02-17T19:00:00Z","b":"2025-04-06T05:00:00Z","lo":50340,"hi":71570},
{"a":"2025-07-29T22:00:00Z","b":"2025-11-23T02:00:00Z","lo":45200,"hi":68690}]},
"mark":{"type":"rect","color":"#4caf50","opacity":0.22},
"encoding":{"x":{"field":"a","type":"temporal","title":null},"x2":{"field":"b"},"y":{"field":"lo","type":"quantitative","title":null},"y2":{"field":"hi"}}},
{"data":{"values":[{"a":"2024-01-07T07:00:00Z","b":"2026-01-16T10:00:00Z","v":69256.9472}]},
"mark":{"type":"rule","color":"#8a8a8e","strokeWidth":1,"strokeDash":[1,2]},
"encoding":{"x":{"field":"a","type":"temporal","title":null},"x2":{"field":"b"},"y":{"field":"v","type":"quantitative","title":null}}},
{"data":{"values":[{"a":"2025-11-27T00:00:00Z"}]},
"mark":{"type":"rule","color":"#8f8f94","strokeWidth":1},
"encoding":{"x":{"field":"a","type":"temporal","title":null}}},
{"data":{"values":[
{"id":"h","a":"2024-09-09T12:00:00Z","v":69360},{"id":"h","a":"2025-12-10T14:00:00Z","v":69360},
{"id":"t","a":"2025-10-15T02:00:00Z","v":58100},{"id":"t","a":"2025-11-28T10:00:00Z","v":70360}]},
"mark":{"type":"line","color":"#f5b07a","strokeWidth":1.5},
"encoding":{"x":{"field":"a","type":"temporal","title":null},"y":{"field":"v","type":"quantitative","title":null},"detail":{"field":"id"}}},
{"data":{"name":"longs"},
"mark":{"type":"bar","width":2.6,"strokeWidth":0.8},
"encoding":{
"x":{"field":"d","type":"temporal","title":null},
"y":{"field":"o","type":"quantitative","title":null},
"y2":{"field":"c"},
"fill":{"condition":{"test":"datum.c >= datum.o","value":"#6dbb71"},"value":"#131313"},
"stroke":{"condition":{"test":"datum.c >= datum.o","value":"#2d4a2f"},"value":"#131313"}}},
{"data":{"values":[{"a":"2024-01-11T02:00:00Z","v":82850,"t":"BTCUSD Longs · 3D · Bitfinex"}]},
"mark":{"type":"text","align":"left","baseline":"middle","fontSize":7.5,"font":"Roboto","color":"#c0c0c5"},
"encoding":{"x":{"field":"a","type":"temporal","title":null},"y":{"field":"v","type":"quantitative","title":null},"text":{"field":"t"}}},
{"data":{"values":[{"a":"2025-01-31T14:00:00Z","v":78695,"t":"Bitfinex BTC Longs"}]},
"mark":{"type":"text","align":"center","baseline":"middle","fontSize":21,"font":"Open Sans","color":"#2e2e2e"},
"encoding":{"x":{"field":"a","type":"temporal","title":null},"y":{"field":"v","type":"quantitative","title":null},"text":{"field":"t"}}},
{"data":{"values":[{"a":"2026-01-17T22:00:00Z","b":"2026-02-27T10:00:00Z","lo":66145,"hi":70161}]},
"mark":{"type":"rect","color":"#222736"},
"encoding":{"x":{"field":"a","type":"temporal","title":null},"x2":{"field":"b"},"y":{"field":"lo","type":"quantitative","title":null},"y2":{"field":"hi"}}},
{"data":{"values":[{"a":"2026-01-20T22:00:00Z","v":69217,"t":"69,256.9472","s":9,"k":"#ffffff"},{"a":"2026-01-20T22:00:00Z","v":67350,"t":"2d 8h","s":8.5,"k":"#c8c8cc"}]},
"mark":{"type":"text","align":"left","baseline":"middle","font":"Roboto","fontWeight":"bold"},
"encoding":{"x":{"field":"a","type":"temporal","title":null},"y":{"field":"v","type":"quantitative","title":null},"text":{"field":"t"},"size":{"field":"s","type":"quantitative","scale":null,"legend":null},"color":{"field":"k","type":"nominal","scale":null,"legend":null}}},
{"data":{"values":[{"a":"2025-11-01T17:00:00Z","b":"2025-12-21T10:00:00Z","lo":34220,"hi":37430}]},
"mark":{"type":"rect","color":"#a2a2a6"},
"encoding":{"x":{"field":"a","type":"temporal","title":null},"x2":{"field":"b"},"y":{"field":"lo","type":"quantitative","title":null},"y2":{"field":"hi"}}},
{"data":{"values":[{"a":"2025-11-27T00:00:00Z","v":35820,"t":"Thu 27 Nov '25"}]},
"mark":{"type":"text","align":"center","baseline":"middle","fontSize":9,"font":"Roboto","fontWeight":"bold","color":"#ffffff"},
"encoding":{"x":{"field":"a","type":"temporal","title":null},"y":{"field":"v","type":"quantitative","title":null},"text":{"field":"t"}}}
]
}
]
}
